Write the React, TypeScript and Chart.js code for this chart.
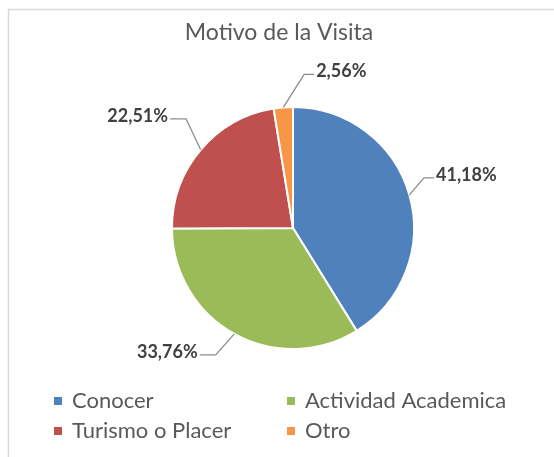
import React, { useEffect, useRef } from "react";
import { Chart, registerables } from "chart.js";

Chart.register(...registerables);

const chartTitle = "Motivo de la Visita";
const categories = ["Conocer", "Actividad Academica", "Turismo o Placer", "Otro"];
const percentages = [41.18, 33.76, 22.51, 2.56];
const sliceColors = ["#4F81BD", "#9BBB59", "#C0504D", "#F79646"];

// label placement relative to slice edge midpoint (style, not data)
const labelOffsets = [
  [57, -20],
  [-67, 18],
  [-63, -34],
  [58, -36],
];

const W = 554;
const H = 457;
const FONT = "Lato, 'Open Sans', sans-serif";

const fmt = (v: number) => v.toFixed(2).replace(".", ",") + "%";

const overlayPlugin = {
  id: "excelOverlay",
  beforeDraw(chart: any) {
    const ctx = chart.ctx;
    ctx.save();
    ctx.fillStyle = "#ffffff";
    ctx.fillRect(0, 0, W, H);
    ctx.strokeStyle = "#d9d9d9";
    ctx.lineWidth = 1.5;
    ctx.beginPath();
    ctx.moveTo(8.5, H);
    ctx.lineTo(8.5, 9.5);
    ctx.lineTo(W, 9.5);
    ctx.stroke();
    ctx.restore();
  },
  afterDraw(chart: any) {
    const ctx = chart.ctx;
    const meta = chart.getDatasetMeta(0);
    ctx.save();

    // title
    ctx.fillStyle = "#595959";
    ctx.font = `400 23px ${FONT}`;
    ctx.textAlign = "center";
    ctx.textBaseline = "middle";
    ctx.fillText(chartTitle, 279, 33);

    // data labels with leader lines
    ctx.font = `700 18px ${FONT}`;
    meta.data.forEach((arc: any, i: number) => {
      const { x, y, startAngle, endAngle, outerRadius } = arc.getProps(
        ["x", "y", "startAngle", "endAngle", "outerRadius"],
        true
      );
      const mid = (startAngle + endAngle) / 2;
      const ax = x + Math.cos(mid) * outerRadius;
      const ay = y + Math.sin(mid) * outerRadius;
      const [dx, dy] = labelOffsets[i];
      const cx = ax + dx;
      const cy = ay + dy;
      const text = fmt(percentages[i]);
      const w = ctx.measureText(text).width;
      const right = dx > 0;
      const edgeX = right ? cx - w / 2 - 2 : cx + w / 2 + 2;
      const elbowX = right ? edgeX - 10 : edgeX + 16;
      const ly = cy + 3;
      ctx.strokeStyle = "#8c8c8c";
      ctx.lineWidth = 1.3;
      ctx.beginPath();
      ctx.moveTo(ax, ay);
      ctx.lineTo(elbowX, ly);
      ctx.lineTo(edgeX, ly);
      ctx.stroke();
      ctx.fillStyle = "#404040";
      ctx.textAlign = "center";
      ctx.textBaseline = "middle";
      ctx.fillText(text, cx, cy);
    });

    // legend (two columns)
    ctx.font = `400 22px ${FONT}`;
    ctx.textAlign = "left";
    ctx.textBaseline = "middle";
    const colX = [54, 287];
    const rowY = [401, 431];
    categories.forEach((c, i) => {
      const col = i % 2;
      const row = Math.floor(i / 2);
      ctx.fillStyle = sliceColors[i];
      ctx.fillRect(colX[col], rowY[row] - 4, 8, 8);
      ctx.fillStyle = "#595959";
      ctx.fillText(c, colX[col] + 18, rowY[row]);
    });
    ctx.restore();
  },
};

export default function App() {
  const ref = useRef<HTMLCanvasElement>(null);
  useEffect(() => {
    if (!ref.current) return;
    const chart = new Chart(ref.current, {
      type: "pie",
      data: {
        labels: categories,
        datasets: [
          {
            data: percentages,
            backgroundColor: sliceColors,
            borderColor: "#ffffff",
            borderWidth: 2,
            radius: 121,
          },
        ],
      },
      options: {
        animation: false,
        responsive: false,
        devicePixelRatio: 1,
        layout: { padding: { left: 163, right: 131, top: 98, bottom: 99 } },
        plugins: {
          legend: { display: false },
          title: { display: false },
          tooltip: { enabled: false },
        },
      },
      plugins: [overlayPlugin],
    });
    return () => chart.destroy();
  }, []);
  return (
    <div style={{ position: "fixed", left: 0, top: 0, width: W, height: H, overflow: "hidden", background: "#fff" }}>
      <canvas ref={ref} width={W} height={H} style={{ width: W, height: H, display: "block" }} />
    </div>
  );
}
